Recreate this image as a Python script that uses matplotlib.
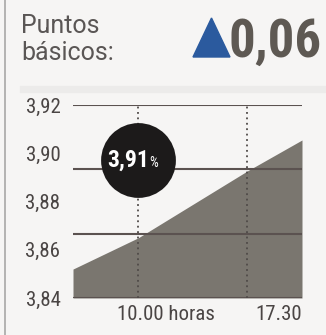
import matplotlib
matplotlib.use("Agg")
import matplotlib.pyplot as plt
from matplotlib import font_manager
from matplotlib.patches import Rectangle
from matplotlib.lines import Line2D
import numpy as np

installed = {f.name for f in font_manager.fontManager.ttflist}
narrow = [n for n in ["Roboto Condensed", "Open Sans Condensed", "Noto Sans Condensed",
                      "Liberation Sans Narrow", "Liberation Sans"] if n in installed]
plt.rcParams['font.family'] = narrow[:1] + ['DejaVu Sans']

# datos
hours = [5.5, 10.0, 17.5, 21.25]
rate = [3.852, 3.865, 3.8927, 3.9055]
ytick_vals = [3.84, 3.86, 3.88, 3.90, 3.92]
ytick_labels = ["3,84", "3,86", "3,88", "3,90", "3,92"]
grid_vals = np.linspace(3.84, 3.92, 4)
time_marks = [10.0, 17.5]
last_value = "3,91"
change = "0,06"

ink = "#4a4544"
fig = plt.figure(figsize=(3.26, 3.35), dpi=100, facecolor="#f6f5f4")

# cabecera
head = dict(fontsize=18, color="#5a5655", va="baseline", ha="left",
            family=["Roboto", "DejaVu Sans"])
fig.text(21 / 326, 1 - 33 / 335, "Puntos", **head)
fig.text(21 / 326, 1 - 60 / 335, "básicos:", **head)
fig.text(1 - 4 / 326, 1 - 57 / 335, change, fontsize=38, fontweight="bold", color="#5e5953",
         va="baseline", ha="right")
fig.patches.append(plt.Polygon([[193 / 326, 1 - 57 / 335], [230 / 326, 1 - 57 / 335],
                                [211.5 / 326, 1 - 18 / 335]], closed=True,
                               transform=fig.transFigure, color="#2b5a9e", figure=fig))
fig.patches.append(Rectangle((20 / 326, 1 - 92 / 335), 306 / 326, 6 / 335,
                             transform=fig.transFigure, color="#ecebea", figure=fig))
fig.lines.append(Line2D([5 / 326, 5 / 326], [0, 1], transform=fig.transFigure,
                        color="#a9a7a6", linewidth=1.2, figure=fig))

ax = fig.add_axes([73 / 326, 1 - 298 / 335, 229 / 326, 193 / 335])
ax.set_facecolor("none")
ax.fill_between(hours, rate, 3.84, color="#7a766f", linewidth=0, zorder=1)
for g in grid_vals:
    ax.axhline(g, color="#5b5250", linewidth=1.5, zorder=2)
for t in time_marks:
    ax.axvline(t, color="#4f4a48", linewidth=1.3, linestyle=(0, (1, 2)), zorder=2)

ax.set_xlim(hours[0], hours[-1])
ax.set_ylim(3.84, 3.92)
for s in ax.spines.values():
    s.set_visible(False)
ax.set_xticks([])
ax.set_yticks(ytick_vals)
ax.set_yticklabels(ytick_labels, fontsize=15, color=ink)
ax.tick_params(axis="y", length=0, pad=9)

ax.text(time_marks[0] - 1.5, 3.84 - 0.003, "10.00 horas", fontsize=15, color=ink,
        ha="left", va="top", clip_on=False)
ax.text(hours[-1], 3.84 - 0.003, "17.30", fontsize=15, color=ink,
        ha="right", va="top", clip_on=False)

# burbuja con el último valor
ax.scatter([time_marks[0]], [3.897], s=2900, color="#1c1a1a", zorder=4, linewidths=0)
ax.annotate(last_value, (time_marks[0], 3.897), xytext=(8, 0), textcoords="offset points",
            ha="right", va="center", fontsize=17, fontweight="bold", color="white", zorder=5)
ax.annotate("%", (time_marks[0], 3.897), xytext=(8, -2), textcoords="offset points",
            ha="left", va="center", fontsize=10, color="white", zorder=5)

fig.savefig("out.png", dpi=100, facecolor=fig.get_facecolor())
